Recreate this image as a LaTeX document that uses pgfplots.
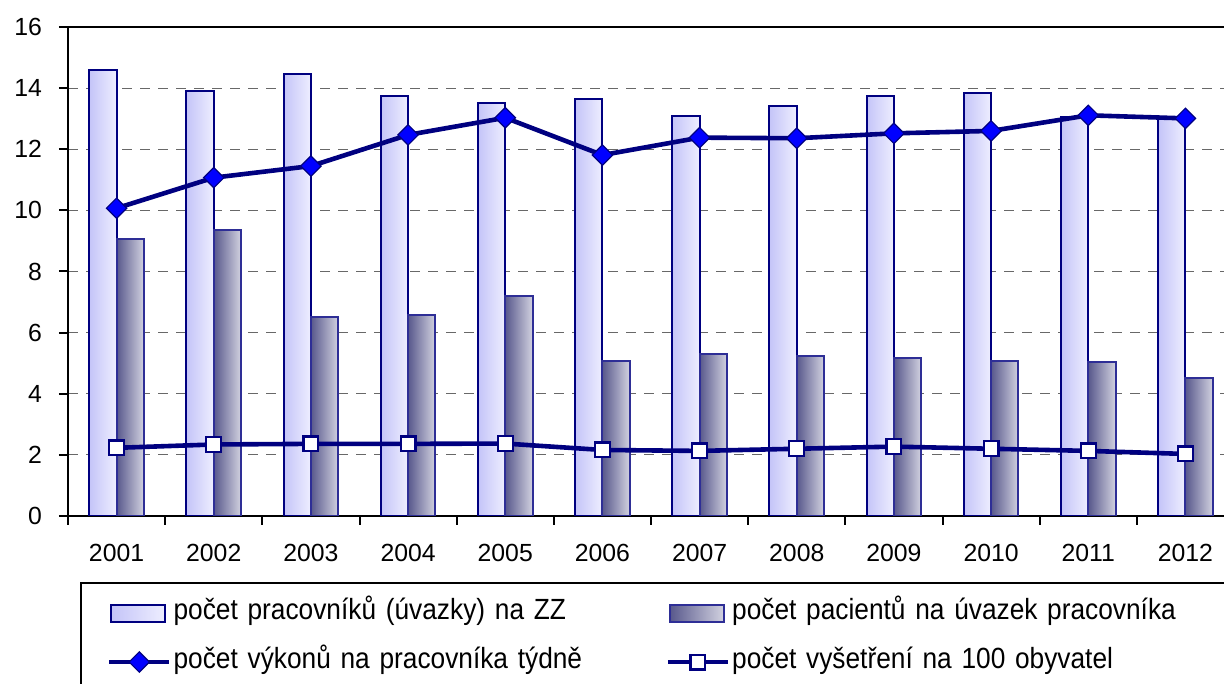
\documentclass[border=0pt]{standalone}
\usepackage{pgfplots}
\usepackage{pgfplotstable}
\pgfplotsset{compat=1.18}
\usepackage{fontspec}
\setmainfont{Liberation Sans}
\newfontfamily\legfont[FakeStretch=0.9]{Liberation Sans}
\definecolor{navy}{HTML}{000080}
\definecolor{lbL}{HTML}{C4C4F8}
\definecolor{lbR}{HTML}{EEEEFF}
\definecolor{dbL}{HTML}{58588C}
\definecolor{dbR}{HTML}{D2D2E0}
\definecolor{dbEdge}{HTML}{2E2E96}
\definecolor{gridc}{HTML}{686868}
\pgfplotsset{
  mybarleg/.style={legend image code/.code={\draw[##1] (1pt,-4.25pt) rectangle (28pt,4.25pt);}},
  mylineleg/.style={legend image code/.code={\draw[mark repeat=2, mark phase=2, ##1] plot coordinates {(0pt,0pt) (15pt,0pt) (30pt,0pt)};}},
  lightbar/.style={draw=navy, line width=1pt, left color=lbL, right color=lbR},
  darkbar/.style={draw=dbEdge, line width=1pt, left color=dbL, right color=dbR},
}
\pgfplotstableread{
x light dark
0 14.6 9.07
1 13.9 9.35
2 14.45 6.51
3 13.75 6.57
4 13.5 7.2
5 13.65 5.06
6 13.1 5.29
7 13.4 5.25
8 13.75 5.17
9 13.85 5.06
10 13.05 5.04
11 13.0 4.51
}\bardata
\begin{document}
\begin{tikzpicture}
\useasboundingbox (0,0) rectangle (612pt,342pt);
\clip (0,0) rectangle (612pt,342pt);
\begin{axis}[
  at={(34pt,84pt)}, anchor=south west,
  scale only axis, width=583pt, height=244.5pt,
  xmin=-0.5, xmax=11.5, ymin=0, ymax=16,
  axis x line*=bottom, axis y line*=left,
  axis line style={-, line width=1pt, black},
  xtick={-0.5,0.5,...,11.5}, x tick label as interval,
  xticklabels={2001,2002,2003,2004,2005,2006,2007,2008,2009,2010,2011,2012},
  ytick={0,2,...,14},
  extra y ticks={16},
  extra y tick style={grid=major, major grid style={solid, black, line width=1pt}},
  ymajorgrids,
  major grid style={gridc, dash pattern=on 5pt off 4pt, line width=0.6pt},
  tick align=outside, major tick length=4.5pt,
  tick style={black, line width=1pt},
  /pgf/number format/assume math mode=true,
  tick label style={font=\fontsize{12.4pt}{15pt}\selectfont},
  yticklabel style={xshift=-5pt},
  xticklabel style={yshift=-6pt},
  legend columns=2, legend cell align=left,
  legend style={at={(axis description cs:0.0103,-0.135)}, anchor=north west,
    draw=black, line width=1pt, fill=white,
    inner xsep=13pt, inner ysep=4pt, column sep=0pt, row sep=2.5pt,
    font=\legfont\fontsize{14.6pt}{17pt}\selectfont,
    nodes={inner xsep=1pt, inner ysep=2pt, text height=12pt, text depth=6pt, align=left}},
]
\addlegendimage{lightbar, mybarleg}
\addlegendentry[text width=245pt]{počet pracovníků (úvazky) na ZZ}
\addlegendimage{darkbar, mybarleg}
\addlegendentry[text width=234pt]{počet pacientů na úvazek pracovníka}
\pgfplotsinvokeforeach{0,...,11}{
  \addplot[ybar, bar width=13.7pt, bar shift=-6.85pt, lightbar, forget plot,
    x filter/.expression={abs(x-#1)<0.1 ? x : nan}] table[x=x, y=light] {\bardata};
  \addplot[ybar, bar width=13.7pt, bar shift=6.85pt, darkbar, forget plot,
    x filter/.expression={abs(x-#1)<0.1 ? x : nan}] table[x=x, y=dark] {\bardata};
}
\addplot[navy, line width=2.3pt, mark=square*, mark size=3.6pt,
  mark options={rotate=45, fill=blue, draw=navy, line width=0.6pt}, mylineleg]
  coordinates {(0,10.07) (1,11.07) (2,11.45) (3,12.47) (4,13.03) (5,11.81) (6,12.38) (7,12.36) (8,12.52) (9,12.6) (10,13.11) (11,13.01)};
\addlegendentry[text width=245pt]{počet výkonů na pracovníka týdně}
\addplot[navy, line width=2.3pt, mark=square*, mark size=3.7pt,
  mark options={fill=white, draw=navy, line width=1.1pt}, mylineleg]
  coordinates {(0,2.23) (1,2.34) (2,2.36) (3,2.36) (4,2.37) (5,2.16) (6,2.13) (7,2.2) (8,2.27) (9,2.2) (10,2.13) (11,2.03)};
\addlegendentry[text width=234pt]{počet vyšetření na 100 obyvatel}
\end{axis}
\end{tikzpicture}
\end{document}
